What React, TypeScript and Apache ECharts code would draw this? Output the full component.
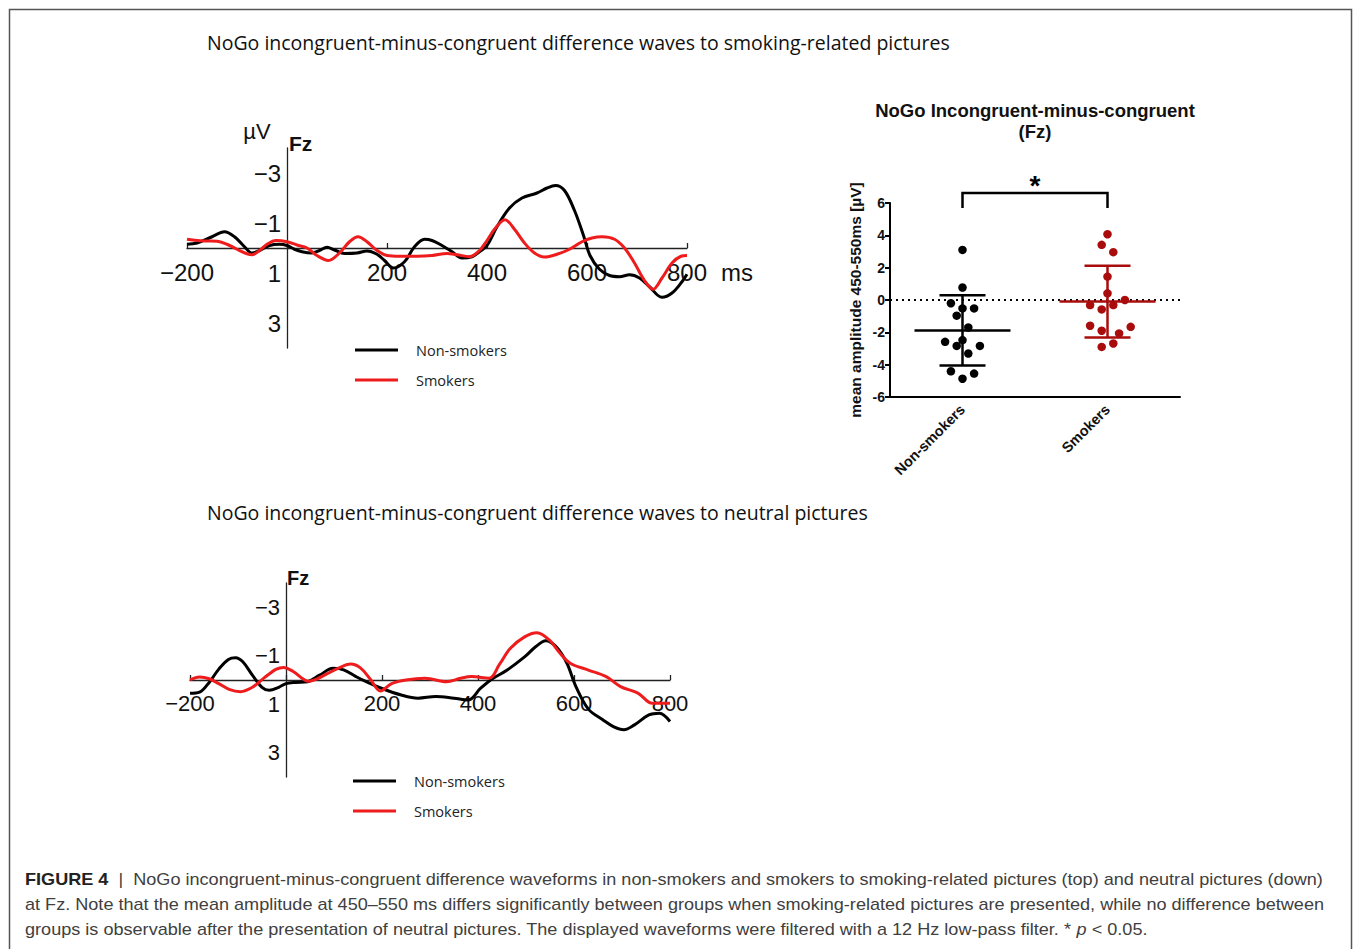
import React, { useEffect, useRef } from 'react';
import * as echarts from 'echarts';

// ---------- DATA ----------
// ERP difference waves, smoking-related pictures (top) — [ms, µV]
const topNonSmokers: [number, number][] = [
  [-200, -0.15], [-180, -0.2], [-150, -0.45], [-125, -0.65], [-105, -0.45], [-85, -0.05],
  [-70, 0.2], [-55, 0.1], [-35, -0.1], [-15, -0.15], [0, -0.1], [15, 0.05], [30, 0.15],
  [50, 0.2], [65, 0.1], [80, -0.03], [95, 0.08], [115, 0.22], [140, 0.2], [160, 0.12],
  [180, 0.25], [195, 0.5], [213, 0.8], [235, 0.55], [255, -0.05], [275, -0.35], [290, -0.3],
  [310, -0.1], [330, 0.15], [350, 0.4], [370, 0.35], [385, 0.15], [400, -0.1], [420, -0.85],
  [445, -1.6], [470, -2.0], [500, -2.2], [520, -2.4], [537, -2.5], [555, -2.3], [575, -1.5],
  [593, -0.5], [606, 0.3], [625, 0.85], [645, 1.1], [665, 1.15], [685, 1.07], [705, 1.2],
  [725, 1.55], [750, 1.97], [770, 1.8], [790, 1.35], [800, 1.05],
];
const topSmokers: [number, number][] = [
  [-200, -0.35], [-180, -0.3], [-160, -0.28], [-140, -0.27], [-120, -0.15], [-100, 0.05],
  [-80, 0.23], [-70, 0.27], [-55, 0.1], [-40, -0.15], [-22, -0.3], [0, -0.25], [20, -0.12],
  [40, 0.0], [60, 0.3], [83, 0.5], [105, 0.2], [125, -0.25], [142, -0.45], [160, -0.25],
  [180, 0.1], [200, 0.3], [225, 0.33], [260, 0.33], [290, 0.3], [320, 0.22], [340, 0.27],
  [365, 0.35], [385, 0.1], [400, -0.3], [415, -0.75], [436, -1.13], [455, -0.75], [475, -0.2],
  [495, 0.2], [515, 0.36], [540, 0.25], [565, 0.05], [590, -0.25], [610, -0.4], [630, -0.45],
  [655, -0.35], [675, 0.0], [695, 0.6], [715, 1.3], [732, 1.65], [750, 1.2], [770, 0.6],
  [788, 0.33], [800, 0.3],
];
// ERP difference waves, neutral pictures (bottom) — [ms, µV]
const bottomNonSmokers: [number, number][] = [
  [-200, 0.55], [-180, 0.5], [-160, 0.1], [-140, -0.45], [-120, -0.85], [-105, -0.92],
  [-90, -0.75], [-70, -0.2], [-50, 0.3], [-35, 0.42], [-15, 0.3], [0, 0.15], [20, 0.1],
  [45, 0.07], [70, -0.2], [98, -0.48], [120, -0.42], [145, -0.15], [165, 0.05], [200, 0.35],
  [240, 0.62], [275, 0.75], [312, 0.68], [350, 0.75], [380, 0.82], [405, 0.35], [430, -0.05],
  [460, -0.4], [497, -0.95], [520, -1.37], [541, -1.62], [563, -1.37], [585, -0.7], [604, 0.27],
  [630, 1.2], [660, 1.64], [682, 1.92], [704, 2.05], [726, 1.85], [756, 1.44], [778, 1.37],
  [800, 1.71],
];
const bottomSmokers: [number, number][] = [
  [-200, 0.0], [-180, -0.12], [-160, -0.05], [-140, 0.15], [-117, 0.4], [-95, 0.48],
  [-70, 0.3], [-45, -0.1], [-20, -0.45], [-5, -0.52], [15, -0.35], [35, -0.05], [46, 0.05],
  [65, -0.05], [85, -0.25], [105, -0.45], [135, -0.66], [155, -0.5], [175, -0.05], [197, 0.45],
  [220, 0.15], [250, 0.0], [290, -0.07], [334, 0.07], [364, -0.07], [386, -0.14], [423, -0.07],
  [445, -0.65], [467, -1.3], [497, -1.78], [523, -1.95], [549, -1.64], [571, -1.1], [593, -0.68],
  [630, -0.41], [667, -0.14], [697, 0.27], [734, 0.55], [763, 0.96], [800, 0.96],
];

// Scatter dot plot: mean amplitude 450-550 ms (µV)
const groups = ['Non-smokers', 'Smokers'];
const nonSmokersAmp = [3.1, 0.77, -0.2, -0.52, -0.52, -0.97, -1.7, -2.59, -2.48, -2.84, -2.84, -3.31, -4.41, -4.55, -4.87];
const nonSmokersCol = [0, 0, -2, 0, 2, -1, 1, -3, 0, -1, 3, 1, -2, 2, 0];
const smokersAmp = [4.07, 3.41, 2.96, 1.45, 0.41, 0, -0.31, -0.31, -0.58, -1.59, -1.66, -1.9, -2.07, -2.69, -2.9];
const smokersCol = [0, -1, 1, 0, 0, 3, -3, 1, -1, -3, 4, -1, 2, 1, -1];
const groupMean = [-1.88, -0.1];
const groupSD = [2.17, 2.22];
const referenceLevel = [0];

// ERP axis ranges
const erpTimeRange = [-200, 800];
const erpAmpRange = [-4, 4];

// ---------- TEXT ----------
const titleTop = 'NoGo incongruent-minus-congruent difference waves to smoking-related pictures';
const titleBottom = 'NoGo incongruent-minus-congruent difference waves to neutral pictures';
const scatterTitle = ['NoGo Incongruent-minus-congruent', '(Fz)'];
const captionLines = [
  '{b|FIGURE 4}  |  NoGo incongruent-minus-congruent difference waveforms in non-smokers and smokers to smoking-related pictures (top) and neutral pictures (down)',
  'at Fz. Note that the mean amplitude at 450–550 ms differs significantly between groups when smoking-related pictures are presented, while no difference between',
  'groups is observable after the presentation of neutral pictures. The displayed waveforms were filtered with a 12 Hz low-pass filter. * {i|p} < 0.05.',
];

const HELV = '"Liberation Sans", Arial, sans-serif';
const CAL = '"Open Sans", "Noto Sans", sans-serif';
const RED = '#ee1c1c';
const DARKRED = '#a80c0c';

const minus = (v: number) => (v < 0 ? '\u2212' + Math.abs(v) : String(v));

function erpAxes(grid: number, fontSize: number, w: number, h: number) {
  const [t0, t1] = erpTimeRange;
  const [a0, a1] = erpAmpRange;
  // move axes so that they cross at (0 ms, 0 µV), labels included
  const xOffset = -h * (a1 - 0) / (a1 - a0);
  const yOffset = -w * (0 - t0) / (t1 - t0);
  const x = {
    type: 'value', gridIndex: grid, min: t0, max: t1, interval: 200, offset: xOffset,
    axisLine: { onZero: false, lineStyle: { color: '#222', width: 1.3 } },
    axisTick: { show: true, inside: true, length: 5, lineStyle: { color: '#222', width: 1.3 } },
    axisLabel: {
      formatter: (v: number) => (v === 0 ? '' : minus(v)),
      fontFamily: HELV, fontSize, color: '#111', margin: 12,
    },
    splitLine: { show: false },
  };
  const y = {
    type: 'value', gridIndex: grid, inverse: true, min: a0, max: a1, interval: 1, offset: yOffset,
    axisLine: { show: true, onZero: false, lineStyle: { color: '#222', width: 1.3 } },
    axisTick: { show: false },
    axisLabel: {
      formatter: (v: number) => (Math.abs(v) % 2 === 1 ? minus(v) : ''),
      fontFamily: HELV, fontSize, color: '#111', margin: 6,
    },
    splitLine: { show: false },
  };
  return { x, y };
}

function erpLine(data: [number, number][], color: string, axis: number) {
  return {
    type: 'line', xAxisIndex: axis, yAxisIndex: axis, data,
    smooth: 0.35, showSymbol: false, silent: true,
    lineStyle: { color, width: 3 },
  };
}

function legend(x: number, y: number) {
  return [
    { type: 'line', shape: { x1: x, y1: y, x2: x + 43, y2: y }, style: { stroke: '#000', lineWidth: 3 } },
    { type: 'text', x: x + 61, y: y, style: { text: 'Non-smokers', font: `14.5px ${CAL}`, fill: '#222', verticalAlign: 'middle' } },
    { type: 'line', shape: { x1: x, y1: y + 30, x2: x + 43, y2: y + 30 }, style: { stroke: RED, lineWidth: 3 } },
    { type: 'text', x: x + 61, y: y + 30, style: { text: 'Smokers', font: `14.5px ${CAL}`, fill: '#222', verticalAlign: 'middle' } },
  ];
}

export default function App() {
  const ref = useRef<HTMLDivElement>(null);
  useEffect(() => {
    document.body.style.margin = '0';
    const chart = echarts.init(ref.current!, null, { renderer: 'svg' });
    const top = erpAxes(0, 24, 500, 200);
    const bot = erpAxes(2, 22, 480, 194);

    const scatterData = (amp: number[], col: number[], cat: number, color: string) =>
      amp.map((v, i) => ({ value: [cat, v], symbolOffset: [col[i] * 5.8, 0], itemStyle: { color, opacity: 1 } }));

    const option: any = {
      animation: false,
      backgroundColor: '#fff',
      grid: [
        { left: 187, top: 148, width: 500, height: 200 },
        { left: 890, top: 203, width: 290, height: 194 },
        { left: 190, top: 583, width: 480, height: 194 },
      ],
      xAxis: [
        top.x,
        {
          type: 'category', gridIndex: 1, data: groups, boundaryGap: true,
          axisLine: { onZero: false, lineStyle: { color: '#000', width: 2 } },
          axisTick: { alignWithLabel: true, length: 5, lineStyle: { color: '#000', width: 2 } },
          axisLabel: { rotate: 45, fontFamily: HELV, fontWeight: 'bold', fontSize: 14.5, color: '#111', margin: 10 },
        },
        bot.x,
      ],
      yAxis: [
        top.y,
        {
          type: 'value', gridIndex: 1, min: -6, max: 6, interval: 2,
          axisLine: { show: true, onZero: false, lineStyle: { color: '#000', width: 2 } },
          axisTick: { show: true, length: 5, lineStyle: { color: '#000', width: 2 } },
          axisLabel: { fontFamily: HELV, fontWeight: 'bold', fontSize: 14, color: '#111', margin: 5 },
          splitLine: { show: false },
          name: 'mean amplitude 450-550ms [µV]', nameLocation: 'middle', nameGap: 27,
          nameTextStyle: { fontFamily: HELV, fontWeight: 'bold', fontSize: 15.5, color: '#111' },
        },
        bot.y,
      ],
      series: [
        erpLine(topNonSmokers, '#000', 0),
        erpLine(topSmokers, RED, 0),
        erpLine(bottomNonSmokers, '#000', 2),
        erpLine(bottomSmokers, RED, 2),
        {
          // dotted reference line at 0 µV across the plot area
          type: 'custom', xAxisIndex: 1, yAxisIndex: 1, silent: true, clip: false, z: 2,
          data: referenceLevel.map((v) => [0, v]),
          renderItem: (params: any, api: any) => {
            const cs = params.coordSys;
            const y = api.coord([0, api.value(1)])[1];
            return {
              type: 'line',
              shape: { x1: cs.x, y1: y, x2: cs.x + cs.width, y2: y },
              style: { stroke: '#000', lineWidth: 2, lineDash: [2, 4] },
            };
          },
        },
        {
          type: 'scatter', xAxisIndex: 1, yAxisIndex: 1, symbolSize: 8.5, silent: true,
          data: [
            ...scatterData(nonSmokersAmp, nonSmokersCol, 0, '#000'),
            ...scatterData(smokersAmp, smokersCol, 1, DARKRED),
          ],
          z: 3,
        },
        {
          type: 'custom', xAxisIndex: 1, yAxisIndex: 1, silent: true, clip: false, z: 4,
          data: groups.map((_, i) => ({
            value: [i, groupMean[i], groupSD[i]],
            itemStyle: { color: i === 0 ? '#000' : DARKRED },
          })),
          renderItem: (params: any, api: any) => {
            const cat = api.value(0), m = api.value(1), sd = api.value(2);
            const [cx, my] = api.coord([cat, m]);
            const ty = api.coord([cat, m + sd])[1];
            const by = api.coord([cat, m - sd])[1];
            const style = { stroke: api.visual('color'), lineWidth: 2.5 };
            return {
              type: 'group',
              children: [
                { type: 'line', shape: { x1: cx - 48, y1: my, x2: cx + 48, y2: my }, style },
                { type: 'line', shape: { x1: cx - 23, y1: ty, x2: cx + 23, y2: ty }, style },
                { type: 'line', shape: { x1: cx - 23, y1: by, x2: cx + 23, y2: by }, style },
                { type: 'line', shape: { x1: cx, y1: ty, x2: cx, y2: by }, style },
              ],
            };
          },
        },
        {
          type: 'custom', xAxisIndex: 1, yAxisIndex: 1, silent: true, clip: false, z: 4,
          data: [[0, 1]],
          renderItem: (params: any, api: any) => {
            const [x1, gy] = api.coord([api.value(0), 6]);
            const x2 = api.coord([api.value(1), 6])[0];
            return {
              type: 'group',
              children: [
                {
                  type: 'polyline',
                  shape: { points: [[x1, gy + 5], [x1, gy - 10], [x2, gy - 10], [x2, gy + 5]] },
                  style: { stroke: '#000', lineWidth: 2.5, fill: 'none' },
                },
                {
                  type: 'text', x: (x1 + x2) / 2, y: gy - 18,
                  style: { text: '*', font: `bold 28px ${HELV}`, fill: '#000', align: 'center', verticalAlign: 'middle' },
                },
              ],
            };
          },
        },
      ],
      graphic: [
        { type: 'rect', shape: { x: 9.5, y: 9.5, width: 1342, height: 1000 }, style: { fill: 'none', stroke: '#555', lineWidth: 1.5 }, silent: true },
        { type: 'text', x: 207, y: 42, style: { text: titleTop, font: `19.5px ${CAL}`, fill: '#111', verticalAlign: 'middle' } },
        { type: 'text', x: 207, y: 512, style: { text: titleBottom, font: `19.5px ${CAL}`, fill: '#111', verticalAlign: 'middle' } },
        { type: 'text', x: 1035, y: 110, style: { text: scatterTitle[0], font: `bold 18.5px ${HELV}`, fill: '#111', align: 'center', verticalAlign: 'middle' } },
        { type: 'text', x: 1035, y: 131, style: { text: scatterTitle[1], font: `bold 18.5px ${HELV}`, fill: '#111', align: 'center', verticalAlign: 'middle' } },
        { type: 'text', x: 257, y: 131, style: { text: 'µV', font: `22px ${HELV}`, fill: '#111', align: 'center', verticalAlign: 'middle' } },
        { type: 'text', x: 289, y: 143, style: { text: 'Fz', font: `bold 21px ${HELV}`, fill: '#111', verticalAlign: 'middle' } },
        { type: 'text', x: 721, y: 272, style: { text: 'ms', font: `24px ${HELV}`, fill: '#111', verticalAlign: 'middle' } },
        { type: 'text', x: 287, y: 578, style: { text: 'Fz', font: `bold 20px ${HELV}`, fill: '#111', verticalAlign: 'middle' } },
        ...legend(355, 350),
        ...legend(353, 781),
        ...captionLines.map((t, i) => ({
          type: 'text', x: 25, y: 879 + i * 25, scaleX: 1.064,
          style: {
            text: t, font: `17px ${HELV}`, fill: '#404040', verticalAlign: 'middle',
            rich: {
              b: { fontWeight: 'bold', fontSize: 17, fontFamily: HELV, fill: '#222' },
              i: { fontStyle: 'italic', fontSize: 17, fontFamily: HELV, fill: '#404040' },
            },
          },
        })),
      ],
    };
    chart.setOption(option);
    return () => chart.dispose();
  }, []);
  return <div ref={ref} style={{ position: 'absolute', left: 0, top: 0, width: 1355, height: 949 }} />;
}
